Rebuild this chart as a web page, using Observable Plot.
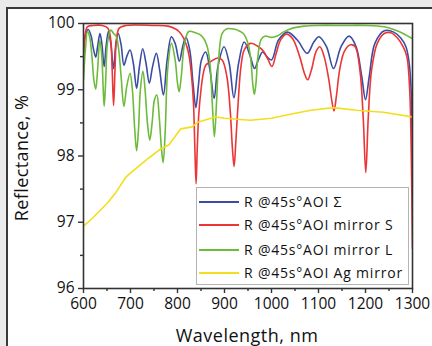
<!DOCTYPE html>
<html><head><meta charset="utf-8">
<script src="https://cdn.jsdelivr.net/npm/d3@7"></script>
<script src="https://cdn.jsdelivr.net/npm/@observablehq/plot@0.6"></script>
<style>
html,body{margin:0;padding:0;background:#ebebeb;width:432px;height:346px;overflow:hidden;font-family:"Open Sans",sans-serif;}
#wrap{position:absolute;left:6px;top:7px;width:426px;height:339px;background:#fff;border-left:2px solid #3a3a3a;border-top:2px solid #3a3a3a;box-sizing:border-box;}
#chart{position:absolute;left:0;top:0;}
.ytitle{position:absolute;left:21px;top:158px;transform:translate(-50%,-50%) rotate(-90deg);font-size:18px;line-height:18px;color:#111;white-space:nowrap;letter-spacing:0.4px;}
.xtitle{position:absolute;left:247px;top:335px;transform:translate(-50%,-50%);font-size:18px;line-height:18px;color:#111;white-space:nowrap;letter-spacing:0.5px;}
#legend{position:absolute;left:196px;top:187px;width:213px;height:98px;background:#fff;border:1px solid #b4b4b4;box-sizing:border-box;}
.item{position:absolute;left:0;height:20px;width:211px;}
.item .sw{position:absolute;left:2px;top:9px;width:40px;height:2px;}
.item .lb{position:absolute;left:47px;top:0;font-size:14px;line-height:20px;color:#111;white-space:nowrap;letter-spacing:0.8px;}
</style></head>
<body>
<div id="wrap"></div>
<div id="chart"></div>
<div class="ytitle">Reflectance, %</div>
<div class="xtitle">Wavelength, nm</div>
<div id="legend"></div>
<script>
// ---- data ----
const sigmaNm = [600,605,610,616,621,626,630,635,639,644,648,653,658,664,669,674,680,686,692,699,706,713,719,726,733,740,747,755,762,770,778,787,795,804,811,818,826,833,839,845,851,860,869,878,886,899,910,920,930,942,955,964,972,981,990,1000,1015,1034,1055,1076,1090,1101,1117,1132,1148,1165,1180,1192,1200,1208,1220,1240,1260,1275,1286,1293,1297,1300];
const sigmaR  = [99.55,99.85,99.91,99.82,99.62,99.49,99.65,99.85,99.7,99.35,99.65,99.88,99.7,99.32,99.7,99.85,99.68,99.37,99.5,99.6,99.4,99.02,99.35,99.62,99.4,99.1,99.35,99.55,99.3,98.92,99.45,99.8,99.7,99.43,99.65,99.79,99.6,99.1,98.73,99.1,99.45,99.57,99.3,98.87,99.35,99.65,99.4,98.88,99.4,99.72,99.5,99.32,99.45,99.57,99.5,99.45,99.75,99.87,99.75,99.55,99.72,99.8,99.65,99.32,99.65,99.81,99.65,99.2,98.85,99.2,99.7,99.89,99.87,99.78,99.65,99.4,99.0,97.8];

const sNm = [600,604,608,620,640,652,658,661,664,667,670,676,690,750,780,795,803,813,820,825,830,834,837,839.5,842,845,850,855,860,870,885,895,905,912,917,920.4,924,929,935,942,955,970,983,993,1001,1010,1020,1032,1045,1060,1070,1077,1085,1095,1103,1112,1122,1128,1133,1138,1145,1155,1168,1178,1188,1195,1200.6,1206,1213,1225,1240,1254,1268,1280,1288,1294,1297,1300];
const sR  = [99.5,99.85,99.95,99.97,99.97,99.93,99.75,99.3,98.76,99.3,99.75,99.93,99.97,99.97,99.96,99.92,99.88,99.78,99.65,99.5,99.2,98.8,98.1,97.58,98.1,98.6,99.0,99.25,99.37,99.42,99.48,99.45,99.2,98.7,98.1,97.84,98.2,98.8,99.35,99.6,99.7,99.66,99.58,99.45,99.35,99.55,99.76,99.84,99.77,99.5,99.25,99.15,99.3,99.58,99.65,99.5,99.15,98.85,98.68,98.9,99.3,99.58,99.68,99.65,99.3,98.6,97.75,98.6,99.3,99.7,99.85,99.86,99.78,99.65,99.5,99.0,98.2,96.6];

const lNm = [600,604,608.5,613,618,622,626,630,634.7,639,642,644,647,651,658,664,670,675,680,686,692,699,704,709,713,717,721,726.5,731,736,741,746,751,756,761,766,769.5,774,779,787,795,800,803.5,808,815,824,838,850,862,869,874,878.5,883,888,895,905,915,928,940,950,956,960,963.5,967,971,978,987,1000,1012,1025,1045,1070,1100,1150,1200,1240,1260,1280,1300];
const lR  = [99.15,99.6,99.88,99.8,99.5,99.15,99.01,99.3,99.75,99.5,99.0,98.75,99.1,99.7,99.9,99.85,99.8,99.6,99.2,98.75,99.05,99.25,99.0,98.4,98.08,98.4,99.0,99.28,99.0,98.5,98.24,98.5,98.85,98.92,98.6,98.1,97.9,98.4,99.3,99.7,99.45,99.1,98.97,99.2,99.7,99.88,99.86,99.82,99.68,99.4,98.8,98.29,98.8,99.5,99.85,99.92,99.92,99.9,99.85,99.7,99.45,99.1,98.93,99.1,99.5,99.76,99.81,99.79,99.81,99.87,99.93,99.96,99.97,99.97,99.97,99.95,99.91,99.85,99.77];

const agNm = [600,619,651,669,690,701,739,765,782,807,831,843,880,900,955,1000,1040,1084,1132,1180,1238,1300];
const agR  = [96.94,97.06,97.29,97.45,97.68,97.75,97.97,98.11,98.17,98.41,98.44,98.51,98.59,98.57,98.54,98.57,98.63,98.69,98.73,98.69,98.66,98.59];

const seriesNames = ["R @45s°AOI Σ","R @45s°AOI mirror S","R @45s°AOI mirror L","R @45s°AOI Ag mirror"];
const xTicks = [600,700,800,900,1000,1100,1200,1300];
const xMinor = [650,750,850,950,1050,1150,1250];
const yTicks = [96,97,98,99,100];
const yMinor = [96.5,97.5,98.5,99.5];

// ---- build ----
const colors = ["#3b4ca4","#ec3535","#6dbb3a","#f3de1e"];
const toRows = (nm, r, k) => nm.map((x,i)=>({nm:x, r:r[i], s:seriesNames[k]}));
const sets = [toRows(sigmaNm,sigmaR,0), toRows(sNm,sR,1), toRows(lNm,lR,2), toRows(agNm,agR,3)];
const fmt = d => String(d);

const chart = Plot.plot({
  width:432, height:346,
  marginLeft:83, marginRight:20, marginTop:23, marginBottom:58,
  style:{fontFamily:"Open Sans", fontSize:"15.5px", color:"#111", background:"transparent", overflow:"visible"},
  x:{domain:[600,1300]},
  y:{domain:[96,100]},
  marks:[
    Plot.line(sets[0], {x:"nm", y:"r", stroke:colors[0], strokeWidth:1.6, curve:"catmull-rom", clip:true}),
    Plot.line(sets[1], {x:"nm", y:"r", stroke:colors[1], strokeWidth:1.6, curve:"catmull-rom", clip:true}),
    Plot.line(sets[2], {x:"nm", y:"r", stroke:colors[2], strokeWidth:1.6, curve:"catmull-rom", clip:true}),
    Plot.line(sets[3], {x:"nm", y:"r", stroke:colors[3], strokeWidth:1.6, curve:"linear", clip:true}),
    Plot.frame({stroke:"#333", strokeWidth:1.6}),
    Plot.axisX({ticks:xTicks, tickSize:5, tickPadding:4, tickFormat:fmt, label:null, stroke:"#333", strokeWidth:1.4}),
    Plot.axisX({ticks:xMinor, tickSize:3, tickFormat:()=>"", label:null, stroke:"#333", strokeWidth:1.4}),
    Plot.axisY({ticks:yTicks, tickSize:5, tickPadding:4, tickFormat:fmt, label:null, stroke:"#333", strokeWidth:1.4}),
    Plot.axisY({ticks:yMinor, tickSize:3, tickFormat:()=>"", label:null, stroke:"#333", strokeWidth:1.4})
  ]
});
document.getElementById("chart").appendChild(chart);

const legend = document.getElementById("legend");
const rowsTop = [4, 27, 51.5, 75];
seriesNames.forEach((n,i)=>{
  const d = document.createElement("div");
  d.className = "item"; d.style.top = Math.round(rowsTop[i]) + "px";
  d.innerHTML = `<div class="sw" style="background:${colors[i]}"></div><div class="lb">${n}</div>`;
  legend.appendChild(d);
});
</script>
</body></html>
